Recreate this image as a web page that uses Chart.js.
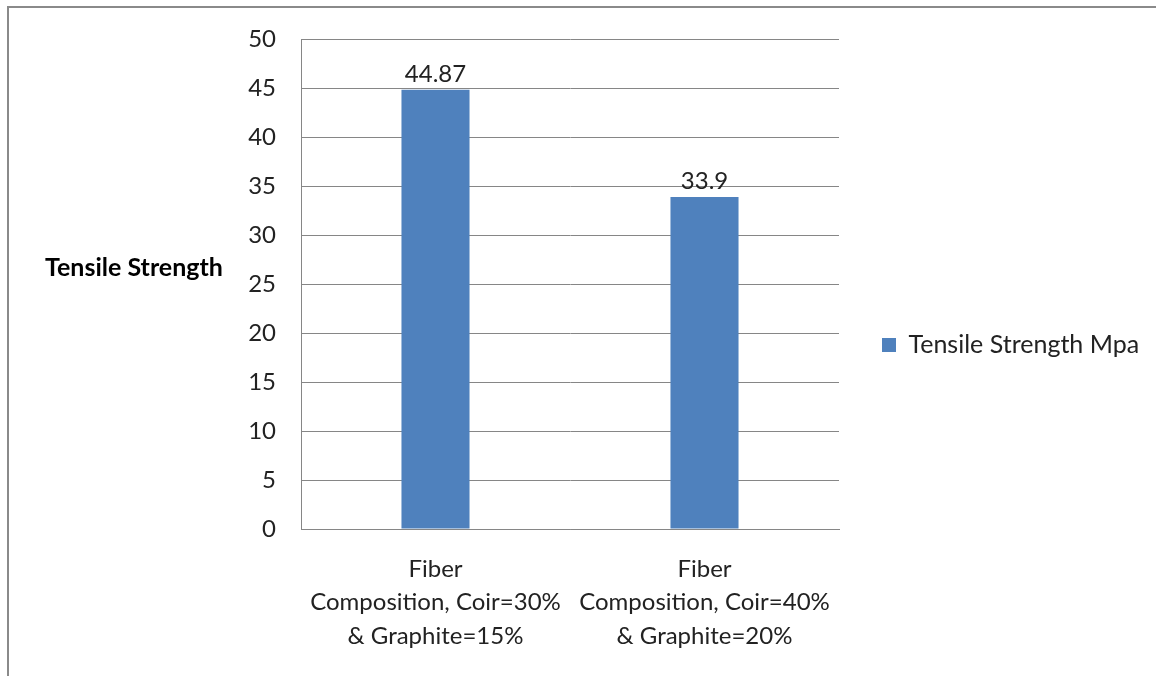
<!DOCTYPE html>
<html><head><meta charset="utf-8">
<script src="https://cdn.jsdelivr.net/npm/chart.js@4/dist/chart.umd.min.js"></script>
<style>
html,body{margin:0;padding:0;background:#fff;overflow:hidden}
#wrap{position:relative;width:1156px;height:676px}
#frame{position:absolute;left:7px;top:6px;width:1170px;height:700px;border:2px solid #8a8a8a;box-sizing:border-box;pointer-events:none}
canvas{position:absolute;left:0;top:0}
</style></head>
<body><div id="wrap"><canvas id="c" width="1156" height="676"></canvas><div id="frame"></div></div>
<script>
const categories=[["Fiber","Composition, Coir=30%","& Graphite=15%"],["Fiber","Composition, Coir=40%","& Graphite=20%"]];
const seriesName="Tensile Strength Mpa";
const values=[44.87,33.9];
const valueLabels=["44.87","33.9"];
const yTitle="Tensile Strength";
const yMin=0,yMax=50,yStep=5;

const FONT="Lato, 'Open Sans', sans-serif";
const FS=24;

const extras={
  id:'extras',
  afterInit(chart){
    const lg=chart.legend;
    if(lg && !lg._patched){
      const orig=lg.fit.bind(lg);
      lg.fit=function(){orig(); if(!this.isHorizontal()) this.width=317;};
      lg._patched=true;
    }
  },
  afterDatasetsDraw(chart){
    const ctx=chart.ctx;
    ctx.save();
    ctx.fillStyle='#222';
    ctx.font=`${FS}px ${FONT}`;
    ctx.textAlign='center';
    ctx.textBaseline='alphabetic';
    const meta=chart.getDatasetMeta(0);
    meta.data.forEach((el,i)=>{ctx.fillText(valueLabels[i],el.x,el.y-8);});
    ctx.font=`bold 25px ${FONT}`;
    ctx.textAlign='left';
    ctx.textBaseline='middle';
    ctx.fillStyle='#000';
    ctx.fillText(yTitle,45,268);
    ctx.restore();
  }
};

new Chart(document.getElementById('c'),{
  type:'bar',
  data:{labels:categories,datasets:[{label:seriesName,data:values,backgroundColor:'#4F81BD',borderWidth:0,categoryPercentage:1,barPercentage:0.253}]},
  options:{
    responsive:false,animation:false,
    layout:{padding:{top:38,right:0,bottom:24,left:0}},
    plugins:{
      tooltip:{enabled:false},
      legend:{position:'right',align:'center',labels:{boxWidth:14,boxHeight:14,padding:43,color:'#222',font:{family:FONT,size:25}}}
    },
    scales:{
      y:{min:yMin,max:yMax,
        ticks:{stepSize:yStep,padding:25,color:'#222',font:{family:FONT,size:FS}},
        grid:{color:'#868686',drawTicks:false},
        border:{color:'#868686'},
        afterFit(s){s.width=301;}
      },
      x:{
        ticks:{padding:24,color:'#222',maxRotation:0,font:{family:FONT,size:FS,lineHeight:1.38}},
        grid:{display:false,drawTicks:false},
        border:{color:'#868686'},
        afterFit(s){s.height=123;}
      }
    }
  },
  plugins:[extras]
});
</script>
</body></html>
